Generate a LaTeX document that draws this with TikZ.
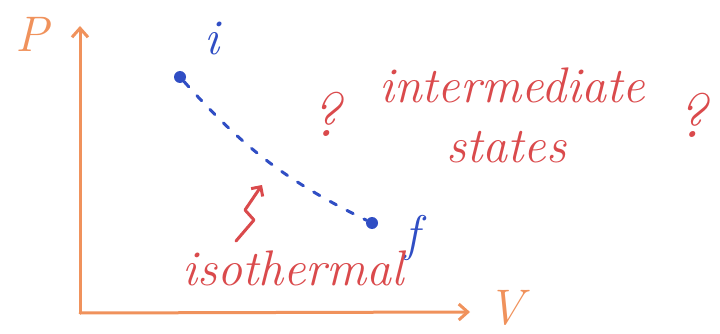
\documentclass[tikz,border=0pt]{standalone}
\usetikzlibrary{arrows.meta,positioning}

\definecolor{axisorange}{RGB}{240,146,92}
\definecolor{notered}{RGB}{218,74,76}
\definecolor{stateblue}{RGB}{48,78,196}

\begin{document}
\begin{tikzpicture}[x=1pt,y=-1pt,
  axis/.style={draw=axisorange,line width=3pt,line cap=round,-{Straight Barb[length=9pt,width=16pt,line width=3pt]}},
  hand/.style={font=\fontsize{50}{56}\selectfont\itshape,inner sep=0pt,anchor=base},
  note/.style={hand,text=notered},
  query/.style={note,font=\fontsize{62}{66}\selectfont\itshape},
  dot/.style={draw=none,circle,fill=stateblue,minimum size=12pt,inner sep=0pt}]
\useasboundingbox (0,0) rectangle (720,334);
% axes
\coordinate (O) at (80,313);
\coordinate (ytop) at (80,26);
\coordinate (xend) at (470,312);
\draw[axis] (O) -- (ytop);
\draw[axis] (O) -- (xend);
\node[hand,text=axisorange] (P) at (32,52) {P};
\node[hand,text=axisorange] (V) at (506,324) {V};
% states
\node[dot] (pi) at (180,77) {};
\node[dot] (pf) at (372,223) {};
\node[hand,text=stateblue] (li) at (212,55) {i};
\node[hand,text=stateblue] (lf) at (412,250) {f};
\draw[stateblue,line width=3pt,line cap=round,dash pattern=on 7pt off 12pt] (pi) to[bend right=11] (pf);
% labels
\node[query] (q1) at (326,136) {?};
\node[note] (inter) at (512,103) {intermediate};
\node[note] (stat) at (506,162) {states};
\node[query] (q2) at (692,138) {?};
\node[note] (iso) at (293,285) {isothermal};
% zigzag arrow
\coordinate (z0) at (236,241);
\coordinate (z1) at (254,220);
\coordinate (z2) at (245,210);
\coordinate (z3) at (262,185);
\draw[notered,line width=3pt,line cap=round,line join=round,-{Straight Barb[length=7pt,width=14pt,line width=3pt]}] (z0) -- (z1) -- (z2) -- (z3);
\end{tikzpicture}
\end{document}
